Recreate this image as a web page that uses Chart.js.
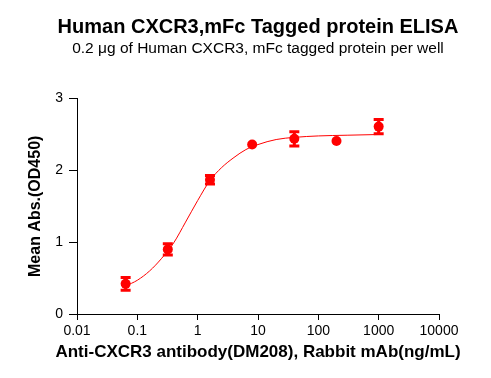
<!DOCTYPE html>
<html>
<head>
<meta charset="utf-8">
<script src="https://cdn.jsdelivr.net/npm/chart.js@4"></script>
<style>
  html, body { margin: 0; padding: 0; background: #fff; }
  #chart { display: block; }
</style>
</head>
<body>
<canvas id="chart" width="491" height="378"></canvas>
<script>
const concentrations = [0.064, 0.32, 1.6, 8, 40, 200, 1000];
const meanOD = [0.42, 0.9, 1.87, 2.36, 2.44, 2.41, 2.61];
const odError = [0.09, 0.08, 0.06, 0, 0.1, 0, 0.1];

// fitted curve
const fitX = [0.064, 0.1, 0.16, 0.25, 0.4, 0.63, 1, 1.6, 2.5, 4, 6.3, 10, 20, 40, 100, 300, 1000];
const fitY = [0.39, 0.47, 0.6, 0.77, 0.99, 1.28, 1.58, 1.86, 2.04, 2.18, 2.29, 2.36, 2.43, 2.46, 2.48, 2.49, 2.5];

const xTickValues = [0.01, 0.1, 1, 10, 100, 1000, 10000];
const xTickLabels = ['0.01', '0.1', '1', '10', '100', '1000', '10000'];
const yTickValues = [0, 1, 2, 3];

const X_TITLE = 'Anti-CXCR3 antibody(DM208), Rabbit mAb(ng/mL)';

const RED = '#ff0000';
const FONT = 'Arial, "Liberation Sans", sans-serif';

const errorBars = {
  id: 'errorBars',
  afterDatasetsDraw(chart) {
    const { ctx } = chart;
    const x = chart.scales.x;
    const y = chart.scales.y;
    ctx.save();
    ctx.strokeStyle = RED;
    ctx.lineWidth = 3;
    concentrations.forEach((c, i) => {
      if (!odError[i]) return;
      const px = x.getPixelForValue(c);
      const top = y.getPixelForValue(meanOD[i] + odError[i]);
      const bottom = y.getPixelForValue(meanOD[i] - odError[i]);
      ctx.beginPath();
      ctx.moveTo(px, top);
      ctx.lineTo(px, bottom);
      ctx.moveTo(px - 5, top);
      ctx.lineTo(px + 5, top);
      ctx.moveTo(px - 5, bottom);
      ctx.lineTo(px + 5, bottom);
      ctx.stroke();
    });
    ctx.restore();
  },
};

// x axis title is wider than the plot, so it's drawn here instead of
// through the scale title (which gets squeezed to the scale width)
const xAxisTitle = {
  id: 'xAxisTitle',
  afterDraw(chart) {
    const { ctx, chartArea } = chart;
    ctx.save();
    ctx.fillStyle = '#000';
    ctx.font = 'bold 17px ' + FONT;
    ctx.textAlign = 'center';
    ctx.textBaseline = 'middle';
    ctx.fillText(X_TITLE, (chartArea.left + chartArea.right) / 2, chartArea.bottom + 38);
    ctx.restore();
  },
};

new Chart(document.getElementById('chart').getContext('2d'), {
  type: 'line',
  data: {
    datasets: [
      {
        data: fitX.map((v, i) => ({ x: v, y: fitY[i] })),
        yAxisID: 'y',
        borderColor: RED,
        borderWidth: 1,
        pointRadius: 0,
        cubicInterpolationMode: 'monotone',
        fill: false,
      },
      {
        data: concentrations.map((v, i) => ({ x: v, y: meanOD[i] })),
        yAxisID: 'y',
        showLine: false,
        pointRadius: 5,
        pointBackgroundColor: RED,
        pointBorderColor: RED,
        pointBorderWidth: 0,
      },
    ],
  },
  options: {
    responsive: false,
    animation: false,
    layout: { padding: { left: 25, right: 0, top: 0, bottom: 0 } },
    plugins: {
      legend: { display: false },
      tooltip: { enabled: false },
      title: {
        display: true,
        text: 'Human CXCR3,mFc Tagged protein ELISA',
        color: '#000',
        font: { family: FONT, size: 20, weight: 'bold', lineHeight: 1.2 },
        padding: { top: 15, bottom: 0 },
      },
      subtitle: {
        display: true,
        text: '0.2 \u03bcg of Human CXCR3, mFc tagged protein per well',
        color: '#000',
        font: { family: FONT, size: 15.5, lineHeight: 1.2 },
        padding: { top: 0, bottom: 41 },
      },
    },
    scales: {
      x: {
        type: 'logarithmic',
        min: 0.01,
        max: 10000,
        afterBuildTicks: scale => {
          scale.ticks = xTickValues.map(v => ({ value: v }));
        },
        afterFit: scale => {
          scale.height = 64;
        },
        grid: { drawOnChartArea: false, drawTicks: true, tickLength: 6, tickColor: '#000', tickWidth: 1 },
        border: { color: '#000', width: 1 },
        ticks: {
          color: '#000',
          padding: 3,
          maxRotation: 0,
          autoSkip: false,
          font: { family: FONT, size: 14 },
          callback: (value, index) => xTickLabels[index],
        },
      },
      y: {
        position: 'left',
        min: 0,
        max: 3,
        afterBuildTicks: scale => {
          scale.ticks = yTickValues.map(v => ({ value: v }));
        },
        afterFit: scale => {
          scale.width = 52;
        },
        grid: { drawOnChartArea: false, drawTicks: true, tickLength: 8, tickColor: '#000', tickWidth: 1 },
        border: { color: '#000', width: 1 },
        ticks: {
          color: '#000',
          padding: 6,
          font: { family: FONT, size: 14 },
        },
        title: {
          display: true,
          text: 'Mean Abs.(OD450)',
          color: '#000',
          font: { family: FONT, size: 16, weight: 'bold', lineHeight: 1.2 },
          padding: { top: 1 },
        },
      },
      // empty right-hand spacer so the plot ends where the reference's does
      spacer: {
        position: 'right',
        axis: 'y',
        min: 0,
        max: 3,
        afterFit: scale => {
          scale.width = 52;
        },
        grid: { display: false },
        border: { display: false },
        ticks: { display: false },
      },
    },
  },
  plugins: [errorBars, xAxisTitle],
});
</script>
</body>
</html>
